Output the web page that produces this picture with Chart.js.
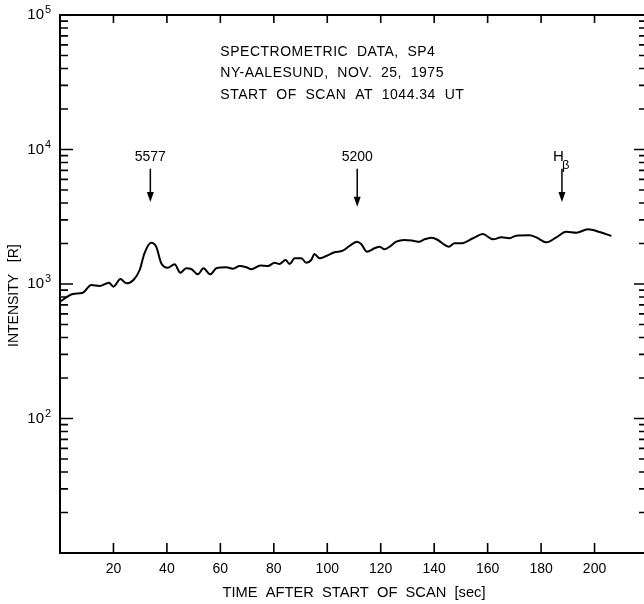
<!DOCTYPE html>
<html>
<head>
<meta charset="utf-8">
<script src="https://cdn.jsdelivr.net/npm/chart.js@4/dist/chart.umd.min.js"></script>
<style>
    html, body { margin: 0; padding: 0; overflow: hidden; background: #fff; }
    #wrap { width: 650px; height: 604px; }
</style>
</head>
<body>
<div id="wrap"><canvas id="scan" width="650" height="604"></canvas></div>
<script>
// scan data
const timeSec = [0, 4.8, 8.5, 11.7, 14.8, 18.3, 20.0, 22.6, 24.8, 27.5, 29.8, 31.6, 34.1, 36.0, 37.9, 40.3,
    42.9, 45.0, 47.2, 49.1, 51.6, 53.7, 56.2, 58.5, 62.2, 64.7, 67.2, 69.7, 71.6, 75.0, 77.8, 80.3, 82.1,
    84.4, 85.9, 87.8, 90.3, 92.1, 94.0, 95.2, 97.1, 99.6, 102.7, 105.8, 108.3, 111.1, 112.7, 114.8, 117.7,
    119.6, 121.4, 123.3, 125.8, 128.9, 132.0, 134.5, 136.4, 138.9, 141.4, 143.9, 145.5, 147.6, 150.1, 154.5,
    158.2, 162.0, 165.1, 168.2, 170.7, 175.7, 178.2, 182.0, 185.7, 189.4, 193.2, 197.5, 201.9, 206.3];
const intensity = [738, 843, 861, 983, 967, 1023, 955, 1089, 1012, 1071, 1271, 1692, 2028, 1893, 1425, 1320,
    1401, 1213, 1308, 1293, 1180, 1308, 1180, 1308, 1331, 1300, 1361, 1331, 1286, 1375, 1361, 1440, 1408,
    1508, 1408, 1553, 1553, 1440, 1508, 1671, 1553, 1615, 1721, 1769, 1917, 2063, 1984, 1738, 1843,
    1893, 1811, 1893, 2063, 2124, 2099, 2063, 2149, 2208, 2124, 1950, 1893, 2007, 2007, 2187,
    2353, 2149, 2223, 2187, 2286, 2301, 2223, 2042, 2223, 2448, 2406, 2551, 2436, 2274];

const xTicks = [20, 40, 60, 80, 100, 120, 140, 160, 180, 200];
const yDecades = [10, 100, 1000, 10000, 100000];

// marked emission lines
const lineLabels = ['5577', '5200', 'H'];
const lineTimes = [33.8, 111.2, 187.8];
const headerLines = ['SPECTROMETRIC  DATA,  SP4', 'NY-AALESUND,  NOV.  25,  1975', 'START  OF  SCAN  AT  1044.34  UT'];

const FONT = "'Liberation Sans', 'DejaVu Sans', sans-serif";

const frame = {
    id: 'frame',
    afterDraw(chart) {
        const {ctx, chartArea: a, scales: {x, y}} = chart;
        ctx.save();
        ctx.strokeStyle = '#000';
        ctx.lineWidth = 2;
        ctx.strokeRect(a.left, a.top, a.right - a.left, a.bottom - a.top);

        // inward ticks, log minor ticks on both sides
        ctx.lineWidth = 1.6;
        ctx.beginPath();
        for (const d of yDecades) {
            for (let m = 1; m <= 9; m++) {
                const v = d * m;
                if (v > 100000) break;
                const py = y.getPixelForValue(v);
                const len = m === 1 ? 13 : 8;
                ctx.moveTo(a.left, py); ctx.lineTo(a.left + len, py);
                ctx.moveTo(a.right, py); ctx.lineTo(a.right - (m === 1 ? 14 : 9), py);
            }
        }
        for (const v of xTicks) {
            const px = x.getPixelForValue(v);
            ctx.moveTo(px, a.bottom); ctx.lineTo(px, a.bottom - 10);
            ctx.moveTo(px, a.top); ctx.lineTo(px, a.top + 8);
        }
        ctx.stroke();

        // exponents after the "10" tick labels
        ctx.fillStyle = '#000';
        ctx.font = '11px ' + FONT;
        ctx.textAlign = 'left';
        ctx.textBaseline = 'middle';
        yDecades.forEach(d => {
            const e = Math.round(Math.log10(d));
            if (e > 1) ctx.fillText(String(e), a.left - 15, y.getPixelForValue(d) - 5);
        });

        // arrows for lines
        ctx.font = '14px ' + FONT;
        lineTimes.forEach((t, i) => {
            const px = x.getPixelForValue(t);
            const top = y.getPixelForValue(7200);
            const tip = y.getPixelForValue(i === 1 ? 3760 : 4070);
            ctx.lineWidth = 1.5;
            ctx.beginPath();
            ctx.moveTo(px, top); ctx.lineTo(px, tip - 8);
            ctx.stroke();
            ctx.beginPath();
            ctx.moveTo(px - 3.5, tip - 10); ctx.lineTo(px + 3.5, tip - 10); ctx.lineTo(px, tip);
            ctx.closePath(); ctx.fill();
            const ly = y.getPixelForValue(8800);
            if (lineLabels[i] === 'H') {
                ctx.font = '15px ' + FONT;
                ctx.textAlign = 'center';
                ctx.fillText('H', px - 3.5, ly);
                ctx.font = '13px ' + FONT;
                ctx.textAlign = 'left';
                ctx.fillText('\u03b2', px, ly + 8);
                ctx.font = '14px ' + FONT;
            } else {
                ctx.textAlign = 'center';
                ctx.fillText(lineLabels[i], px, ly);
            }
        });

        // header text
        ctx.textAlign = 'left';
        ctx.letterSpacing = '0.5px';
        const hy = [53100, 36860, 25560];
        headerLines.forEach((s, i) => ctx.fillText(s, x.getPixelForValue(60), y.getPixelForValue(hy[i])));
        ctx.restore();
    }
};

new Chart(document.getElementById('scan'), {
    type: 'line',
    data: {
        datasets: [{
            data: timeSec.map((t, i) => ({x: t, y: intensity[i]})),
            borderColor: '#000',
            borderWidth: 2,
            pointRadius: 0,
            fill: false,
            cubicInterpolationMode: 'monotone'
        }]
    },
    options: {
        responsive: false,
        animation: false,
        devicePixelRatio: 1,
        layout: {padding: {top: 15, right: 2, left: 0, bottom: 0}},
        plugins: {legend: {display: false}, tooltip: {enabled: false}},
        scales: {
            x: {
                type: 'linear', min: 0, max: 220,
                afterBuildTicks: s => { s.ticks = xTicks.map(v => ({value: v})); },
                afterFit: s => { s.height = 51; s.paddingLeft = 0; s.paddingRight = 0; },
                grid: {display: false, drawTicks: false},
                border: {display: false},
                ticks: {padding: 8, color: '#000', autoSkip: false, maxRotation: 0, font: {family: FONT, size: 14}},
                title: {display: true, text: 'TIME  AFTER  START  OF  SCAN  [sec]', color: '#000',
                    font: {family: FONT, size: 14.7}, padding: {top: 0, bottom: 2}}
            },
            y: {
                type: 'logarithmic', min: 10, max: 100000,
                afterBuildTicks: s => { s.ticks = yDecades.map(v => ({value: v})); },
                afterFit: s => { s.width = 60; s.paddingTop = 0; s.paddingBottom = 0; },
                grid: {display: false, drawTicks: false},
                border: {display: false},
                ticks: {
                    padding: 16, color: '#000', font: {family: FONT, size: 15},
                    callback: v => (Math.round(Math.log10(v)) === 1 ? '' : '10')
                },
                title: {display: true, text: 'INTENSITY   [R]      ', color: '#000',
                    font: {family: FONT, size: 14}, padding: {top: 6, bottom: 0}}
            }
        }
    },
    plugins: [frame]
});
</script>
</body>
</html>
